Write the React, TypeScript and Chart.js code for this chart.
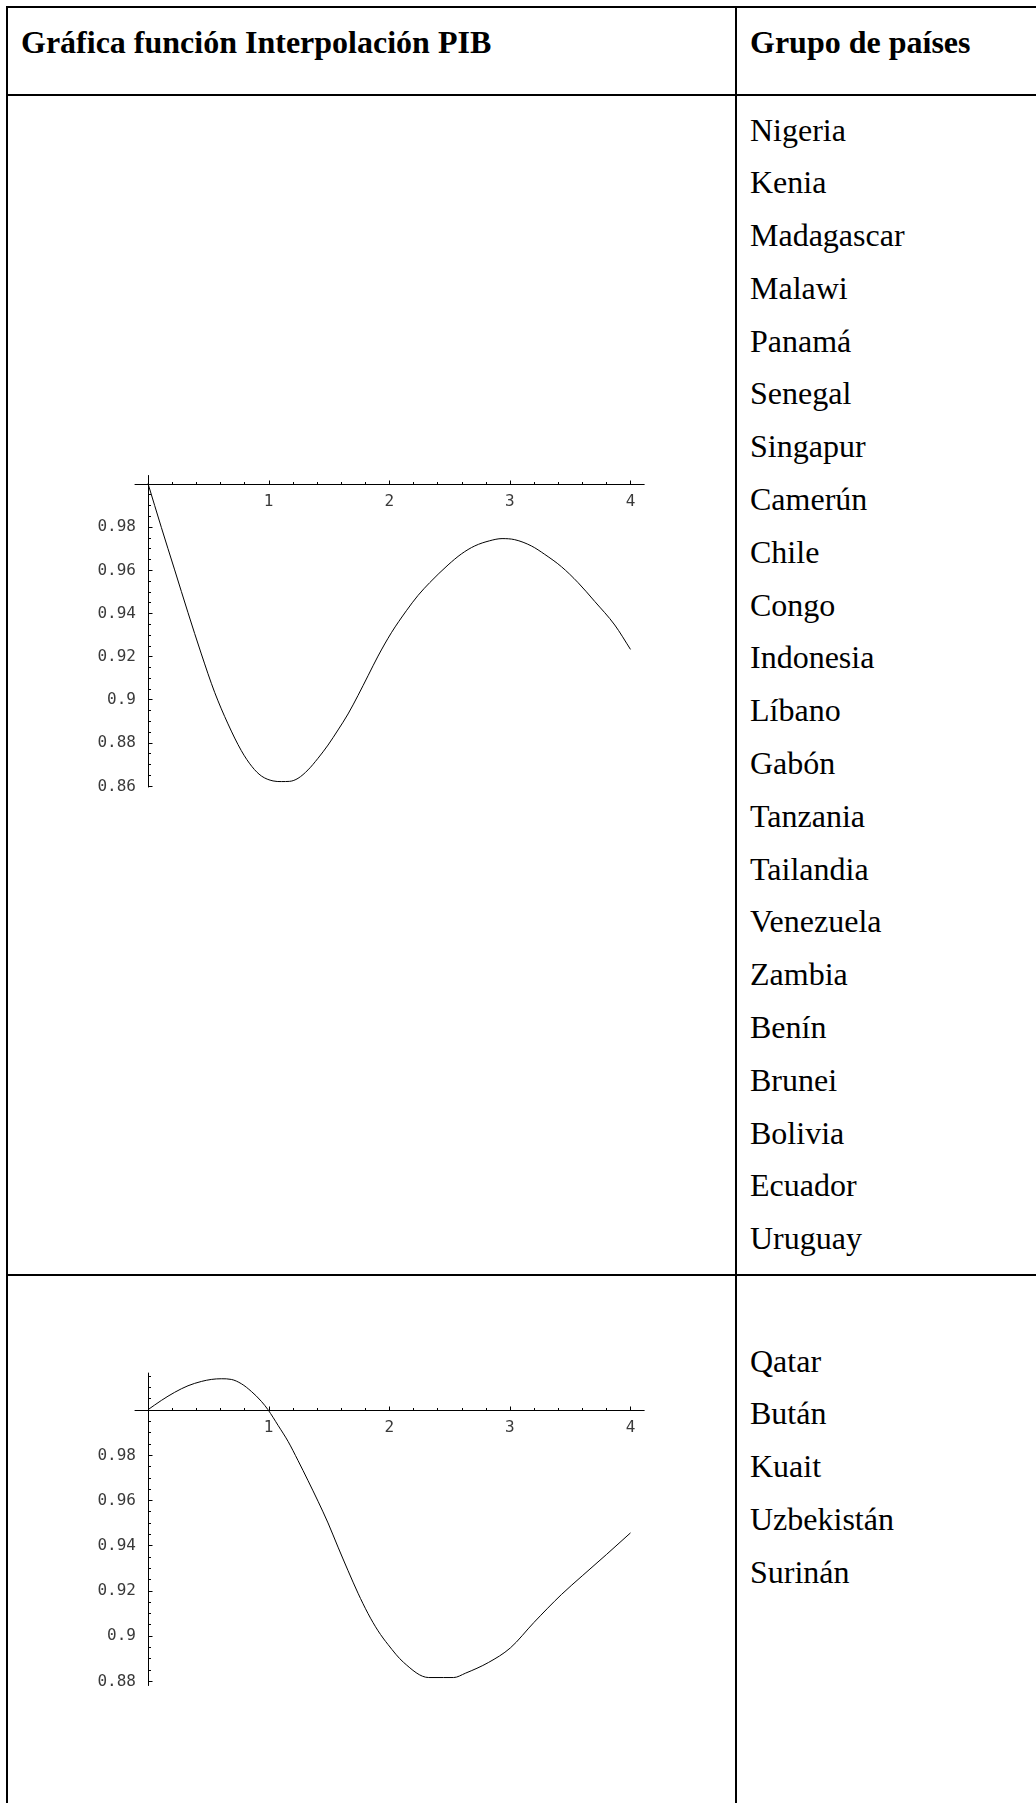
import React, { useEffect, useRef } from 'react';
import { Chart, registerables } from 'chart.js';

Chart.register(...registerables);

// ---------- data ----------
const headerLeft = 'Gráfica función Interpolación PIB';
const headerRight = 'Grupo de países';

const groupA = [
  'Nigeria', 'Kenia', 'Madagascar', 'Malawi', 'Panamá', 'Senegal', 'Singapur',
  'Camerún', 'Chile', 'Congo', 'Indonesia', 'Líbano', 'Gabón', 'Tanzania',
  'Tailandia', 'Venezuela', 'Zambia', 'Benín', 'Brunei', 'Bolivia', 'Ecuador', 'Uruguay',
];
const groupB = ['Qatar', 'Bután', 'Kuait', 'Uzbekistán', 'Surinán'];

const curve1X = [0, 0.1106, 0.2211, 0.3317, 0.4422, 0.5528, 0.6633, 0.7739, 0.8624, 0.9398, 1.0365, 1.1056, 1.1747, 1.2438, 1.3267, 1.4096, 1.4925, 1.5755, 1.6584, 1.7413, 1.8242, 1.9071, 2.0177, 2.1421, 2.2388, 2.3355, 2.4876, 2.5981, 2.7087, 2.8331, 2.9353, 3.0403, 3.1786, 3.2891, 3.4273, 3.5655, 3.7037, 3.8695, 4.0];
const curve1Y = [1.0, 0.9797, 0.96, 0.9402, 0.9211, 0.9033, 0.8887, 0.8763, 0.8689, 0.8646, 0.8623, 0.862, 0.8621, 0.8635, 0.8674, 0.8728, 0.8789, 0.8859, 0.8933, 0.9019, 0.911, 0.9201, 0.9309, 0.9411, 0.9482, 0.9541, 0.9623, 0.9674, 0.9711, 0.9735, 0.9745, 0.974, 0.9711, 0.9672, 0.9615, 0.9541, 0.9454, 0.9345, 0.9232];

const curve2X = [0, 0.1106, 0.2211, 0.3317, 0.4422, 0.5251, 0.608, 0.691, 0.7739, 0.8568, 0.9398, 0.995, 1.078, 1.161, 1.244, 1.327, 1.4096, 1.4925, 1.5755, 1.6584, 1.7413, 1.8242, 1.907, 1.99, 2.119, 2.327, 2.451, 2.534, 2.631, 2.824, 3.004, 3.2, 3.427, 3.6, 3.8, 4.0];
const curve2Y = [1.0, 1.0041, 1.0077, 1.0106, 1.0125, 1.0134, 1.0137, 1.0134, 1.0115, 1.0081, 1.0037, 1.0, 0.9931, 0.986, 0.9775, 0.9686, 0.9595, 0.9499, 0.9392, 0.9288, 0.9188, 0.9098, 0.9022, 0.8961, 0.8882, 0.8815, 0.8815, 0.8815, 0.8834, 0.8882, 0.8946, 0.9059, 0.9182, 0.9265, 0.9359, 0.9455];

const xTicks = [1, 2, 3, 4];
const yTicks1 = [0.98, 0.96, 0.94, 0.92, 0.9, 0.88, 0.86];
const yTicks2 = [0.98, 0.96, 0.94, 0.92, 0.9, 0.88];

// ---------- axes plugin (Mathematica style) ----------
const mmaAxes = {
  id: 'mmaAxes',
  afterDatasetsDraw(chart: any, _args: any, opts: any) {
    const { ctx } = chart;
    const xs = chart.scales.x;
    const ys = chart.scales.y;
    const x0 = Math.round(xs.getPixelForValue(0)) + 0.5;
    const y0 = Math.round(ys.getPixelForValue(opts.cross)) + 0.5;
    ctx.save();
    ctx.strokeStyle = '#000';
    ctx.lineWidth = 1;
    ctx.beginPath();
    ctx.moveTo(xs.left, y0);
    ctx.lineTo(xs.right, y0);
    ctx.moveTo(x0, ys.top);
    ctx.lineTo(x0, ys.bottom);
    ctx.stroke();

    // x ticks (pointing up)
    ctx.beginPath();
    const xMinorStep = opts.xMinor;
    for (let i = 1; i * xMinorStep <= xs.max + 1e-9; i++) {
      const v = i * xMinorStep;
      const px = Math.round(xs.getPixelForValue(v)) + 0.5;
      const major = i % opts.xSub === 0;
      ctx.moveTo(px, y0);
      ctx.lineTo(px, y0 - (major ? 4 : 2.5));
    }
    // y ticks (pointing right)
    const yMinorStep = opts.yMinor;
    const startK = Math.ceil(ys.min / yMinorStep - 1e-9);
    const endK = Math.floor(ys.max / yMinorStep + 1e-9);
    for (let k = startK; k <= endK; k++) {
      const v = k * yMinorStep;
      if (Math.abs(v - opts.cross) < 1e-9) continue;
      const py = Math.round(ys.getPixelForValue(v)) + 0.5;
      const major = k % opts.ySub === 0;
      ctx.moveTo(x0, py);
      ctx.lineTo(x0 + (major ? 4 : 2.5), py);
    }
    ctx.stroke();

    // tick labels
    ctx.fillStyle = '#3a3a3a';
    ctx.font = '16px "DejaVu Sans Mono"';
    ctx.textAlign = 'center';
    ctx.textBaseline = 'middle';
    opts.xLabels.forEach((v: number) => {
      ctx.fillText(String(v), xs.getPixelForValue(v), y0 + 17.5);
    });
    ctx.textAlign = 'right';
    opts.yLabels.forEach((v: number) => {
      ctx.fillText(String(v), x0 - 12.5, ys.getPixelForValue(v) + 0.5);
    });
    ctx.restore();
  },
};

type PlotProps = {
  xsData: number[];
  ysData: number[];
  yLabels: number[];
  xMin: number;
  xMax: number;
  yMin: number;
  yMax: number;
  left: number;
  top: number;
  width: number;
  height: number;
  pad: { left: number; right: number; top: number; bottom: number };
};

function Plot(p: PlotProps) {
  const ref = useRef<HTMLCanvasElement | null>(null);
  useEffect(() => {
    if (!ref.current) return;
    const chart = new Chart(ref.current, {
      type: 'scatter',
      data: {
        datasets: [
          {
            data: p.xsData.map((x, i) => ({ x, y: p.ysData[i] })),
            showLine: true,
            borderColor: '#000',
            borderWidth: 1,
            pointRadius: 0,
            fill: false,
            cubicInterpolationMode: 'monotone',
          } as any,
        ],
      },
      options: {
        animation: false,
        responsive: false,
        maintainAspectRatio: false,
        events: [],
        layout: { padding: p.pad },
        plugins: {
          legend: { display: false },
          tooltip: { enabled: false },
          mmaAxes: {
            cross: 1,
            xMinor: 0.2,
            xSub: 5,
            yMinor: 0.005,
            ySub: 4,
            xLabels: xTicks,
            yLabels: p.yLabels,
          },
        } as any,
        scales: {
          x: { type: 'linear', min: p.xMin, max: p.xMax, display: false },
          y: { type: 'linear', min: p.yMin, max: p.yMax, display: false },
        },
      },
      plugins: [mmaAxes as any],
    });
    return () => chart.destroy();
  }, []);
  return (
    <canvas
      ref={ref}
      width={p.width}
      height={p.height}
      style={{ position: 'absolute', left: p.left, top: p.top, width: p.width, height: p.height, display: 'block' }}
    />
  );
}

const serif = '"Liberation Serif", "Times New Roman", serif';
const LH = 52.8;

function Line({ left, top, w, h }: { left: number; top: number; w: number; h: number }) {
  return <div style={{ position: 'absolute', left, top, width: w, height: h, background: '#000' }} />;
}

export default function App() {
  if (typeof document !== 'undefined') {
    document.body.style.margin = '0';
    document.body.style.background = '#fff';
  }
  const textStyle: React.CSSProperties = {
    position: 'absolute',
    fontFamily: serif,
    fontSize: 32,
    lineHeight: `${LH}px`,
    color: '#000',
    whiteSpace: 'nowrap',
  };
  return (
    <div style={{ position: 'relative', width: 1036, height: 1803, overflow: 'hidden', background: '#fff' }}>
      <Line left={6} top={6} w={1030} h={2} />
      <Line left={6} top={6} w={2} h={1797} />
      <Line left={6} top={94} w={1030} h={2} />
      <Line left={735} top={6} w={2} h={1797} />
      <Line left={6} top={1274} w={1030} h={2} />

      <div style={{ ...textStyle, left: 21, top: 16.1, fontWeight: 'bold' }}>{headerLeft}</div>
      <div style={{ ...textStyle, left: 750, top: 15.8, fontWeight: 'bold' }}>{headerRight}</div>

      <div style={{ ...textStyle, left: 750, top: 103.5 }}>
        {groupA.map((c) => (
          <div key={c}>{c}</div>
        ))}
      </div>
      <div style={{ ...textStyle, left: 750, top: 1334.5 }}>
        {groupB.map((c) => (
          <div key={c}>{c}</div>
        ))}
      </div>

      <Plot
        xsData={curve1X}
        ysData={curve1Y}
        yLabels={yTicks1}
        xMin={-0.111}
        xMax={4.117}
        yMin={0.8593}
        yMax={1.0039}
        left={80}
        top={440}
        width={580}
        height={380}
        pad={{ left: 54.6, right: 15.4, top: 35.1, bottom: 32.6 }}
      />
      <Plot
        xsData={curve2X}
        ysData={curve2Y}
        yLabels={yTicks2}
        xMin={-0.111}
        xMax={4.117}
        yMin={0.8778}
        yMax={1.0164}
        left={80}
        top={1330}
        width={580}
        height={390}
        pad={{ left: 54.6, right: 15.4, top: 42.65, bottom: 34.1 }}
      />
    </div>
  );
}
